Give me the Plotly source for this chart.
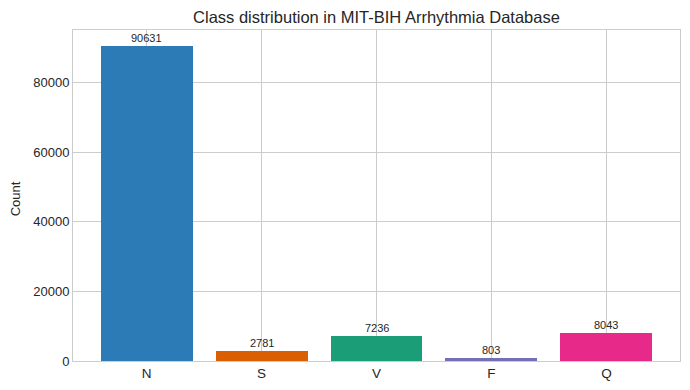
import plotly.graph_objects as go

classes = ["N", "S", "V", "F", "Q"]
counts = [90631, 2781, 7236, 803, 8043]
colors = ["#2c7bb6", "#d95f02", "#1b9e77", "#7570b3", "#e7298a"]
ytick_vals = [0, 20000, 40000, 60000, 80000]

FONT = "Liberation Sans, Arial, sans-serif"
# page has an 8px body margin; figure sized so that it fills the 690x390 window
W, H = 682, 382
L, R, T, B = 65, 10, 22, 29
xs = list(range(len(classes)))
fig = go.Figure()
fig.add_trace(go.Bar(x=xs, y=counts, width=0.8, marker=dict(color=colors, line=dict(width=0)),
                     showlegend=False, hoverinfo="skip"))
for x, c in zip(xs, counts):
    fig.add_annotation(x=x, y=c, text=str(c), showarrow=False, yanchor="bottom", yshift=0,
                       font=dict(family=FONT, size=11, color="#262626"))

fig.add_annotation(text="Count", xref="paper", yref="paper", x=-(L - 7.5) / (W - L - R), y=0.49,
                   textangle=-90, showarrow=False, xanchor="center", yanchor="middle",
                   font=dict(family=FONT, size=13, color="#262626"))

fig.update_layout(
    width=W, height=H,
    margin=dict(l=L, r=R, t=T, b=B, autoexpand=False),
    paper_bgcolor="white", plot_bgcolor="white",
    font=dict(family=FONT, color="#262626"),
    title=dict(text="Class distribution in MIT-BIH Arrhythmia Database", x=(L + W - R) / 2 / W, xanchor="center",
               y=1 - 9 / H, yanchor="middle", font=dict(size=16.5, color="#262626")),
    bargap=0,
)
fig.update_xaxes(range=[-0.64, 4.64], tickvals=xs, ticktext=classes, showgrid=True, gridcolor="#cccccc",
                 gridwidth=1, showline=True, mirror=True, linecolor="#cccccc", linewidth=1, automargin=False,
                 ticks="", ticklen=0, tickfont=dict(size=13.5, color="#262626"), zeroline=False)
fig.update_yaxes(range=[0, 90631 * 1.05], tickvals=ytick_vals, ticktext=[str(v) for v in ytick_vals],
                 showgrid=True, gridcolor="#cccccc", gridwidth=1, showline=True, mirror=True, automargin=False,
                 linecolor="#cccccc", linewidth=1, ticks="", zeroline=False,
                 tickfont=dict(size=13, color="#262626"))
fig.write_html("out.html")
